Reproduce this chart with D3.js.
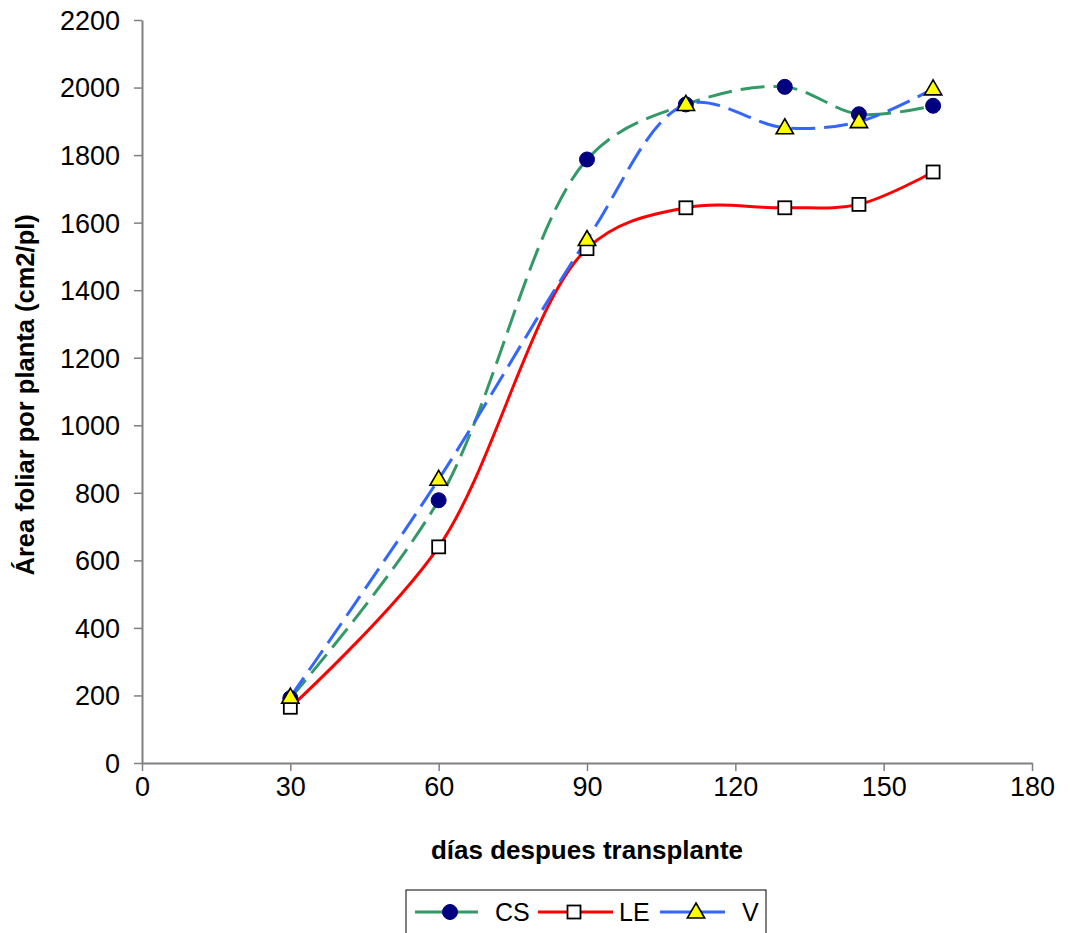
<!DOCTYPE html>
<html>
<head>
<meta charset="utf-8">
<script src="https://cdn.jsdelivr.net/npm/d3@7"></script>
<style>
  body { margin: 0; background: #fff; }
  svg { display: block; font-family: "Liberation Sans", Arial, sans-serif; }
</style>
</head>
<body>
<svg id="chart" width="1070" height="933"></svg>
<script>
// Leaf area per plant by days after transplant
const days = [30, 60, 90, 110, 130, 145, 160];
const csValues = [192, 778, 1787, 1950, 2002, 1921, 1946];
const leValues = [165, 640, 1523, 1644, 1644, 1654, 1750];
const vValues  = [195, 840, 1550, 1950, 1881, 1899, 1996];
const seriesNames = ["CS", "LE", "V"];
const xTicks = [0, 30, 60, 90, 120, 150, 180];
const yTicks = [0, 200, 400, 600, 800, 1000, 1200, 1400, 1600, 1800, 2000, 2200];

const svg = d3.select("#chart");
const axisGray = "#808080";
const font = "Liberation Sans, Arial, sans-serif";

const x = d3.scaleLinear().domain([0, 180]).range([142, 1032]);
const y = d3.scaleLinear().domain([0, 2200]).range([763, 20]);

// axes
const fmt = d3.format("d");
const xAxis = d3.axisBottom(x).tickValues(xTicks).tickSize(8).tickSizeOuter(0).tickFormat(fmt);
const yAxis = d3.axisLeft(y).tickValues(yTicks).tickSize(8).tickSizeOuter(0).tickFormat(fmt);

const gx = svg.append("g").attr("transform", `translate(0,${y(0)})`).call(xAxis);
const gy = svg.append("g").attr("transform", `translate(${x(0)},0)`).call(yAxis);
[gx, gy].forEach(g => {
  g.select(".domain").attr("stroke", axisGray).attr("stroke-width", 2);
  g.selectAll(".tick line").attr("stroke", axisGray).attr("stroke-width", 1.5);
  g.selectAll(".tick text").attr("fill", "#000").attr("font-size", 27)
    .attr("font-family", font);
});
gx.selectAll(".tick text").attr("y", 14).attr("dy", "0.71em");
gy.selectAll(".tick text").attr("x", -22).attr("dy", "0.35em");

// axis titles
svg.append("text")
  .attr("x", x(90)).attr("y", 859)
  .attr("text-anchor", "middle")
  .attr("font-size", 26).attr("font-weight", "bold")
  .text("días despues transplante");

svg.append("text")
  .attr("transform", `translate(34,${y(1090)}) rotate(-90)`)
  .attr("text-anchor", "middle")
  .attr("font-size", 25.5).attr("font-weight", "bold")
  .text("Área foliar por planta (cm2/pl)");

const line = d3.line()
  .x(d => x(d[0]))
  .y(d => y(d[1]))
  .curve(d3.curveCatmullRom.alpha(0.5));

const series = [
  { name: seriesNames[0], values: csValues, color: "#339966", dash: "24,9", marker: "circle" },
  { name: seriesNames[1], values: leValues, color: "#FF0000", dash: null, marker: "square" },
  { name: seriesNames[2], values: vValues, color: "#3366FF", dash: "24,9", marker: "triangle" }
];

const plot = svg.append("g");

series.forEach(s => {
  const pts = days.map((d, i) => [d, s.values[i]]);
  plot.append("path")
    .datum(pts)
    .attr("fill", "none")
    .attr("stroke", s.color)
    .attr("stroke-width", 3)
    .attr("stroke-dasharray", s.dash)
    .attr("d", line);
});

function drawMarker(g, type, cx, cy) {
  if (type === "circle") {
    g.append("circle").attr("cx", cx).attr("cy", cy).attr("r", 7.5)
      .attr("fill", "#000080").attr("stroke", "#000080");
  } else if (type === "square") {
    g.append("rect").attr("x", cx - 6.5).attr("y", cy - 6.5)
      .attr("width", 13).attr("height", 13)
      .attr("fill", "#fff").attr("stroke", "#000").attr("stroke-width", 1.8);
  } else {
    const sym = d3.symbol().type(d3.symbolTriangle).size(130);
    g.append("path").attr("d", sym())
      .attr("transform", `translate(${cx},${cy + 1})`)
      .attr("fill", "#FFFF00").attr("stroke", "#000").attr("stroke-width", 1.6);
  }
}

series.forEach(s => {
  days.forEach((d, i) => drawMarker(plot, s.marker, x(d), y(s.values[i])));
});

// legend
const legend = svg.append("g");
legend.append("rect")
  .attr("x", 406).attr("y", 890).attr("width", 360).attr("height", 50)
  .attr("fill", "#fff").attr("stroke", "#000").attr("stroke-width", 1);

const legendItems = [
  { s: series[0], x0: 415, x1: 478, mx: 450, tx: 495 },
  { s: series[1], x0: 538, x1: 613, mx: 574, tx: 619 },
  { s: series[2], x0: 660, x1: 725, mx: 696, tx: 742 }
];
const ly = 912;
legendItems.forEach(it => {
  legend.append("line")
    .attr("x1", it.x0).attr("x2", it.x1)
    .attr("y1", ly).attr("y2", ly)
    .attr("stroke", it.s.color).attr("stroke-width", 3);
  drawMarker(legend, it.s.marker, it.mx, ly);
  legend.append("text")
    .attr("x", it.tx).attr("y", ly).attr("dy", "0.36em")
    .attr("font-size", 25).attr("font-family", font)
    .text(it.s.name);
});
</script>
</body>
</html>
